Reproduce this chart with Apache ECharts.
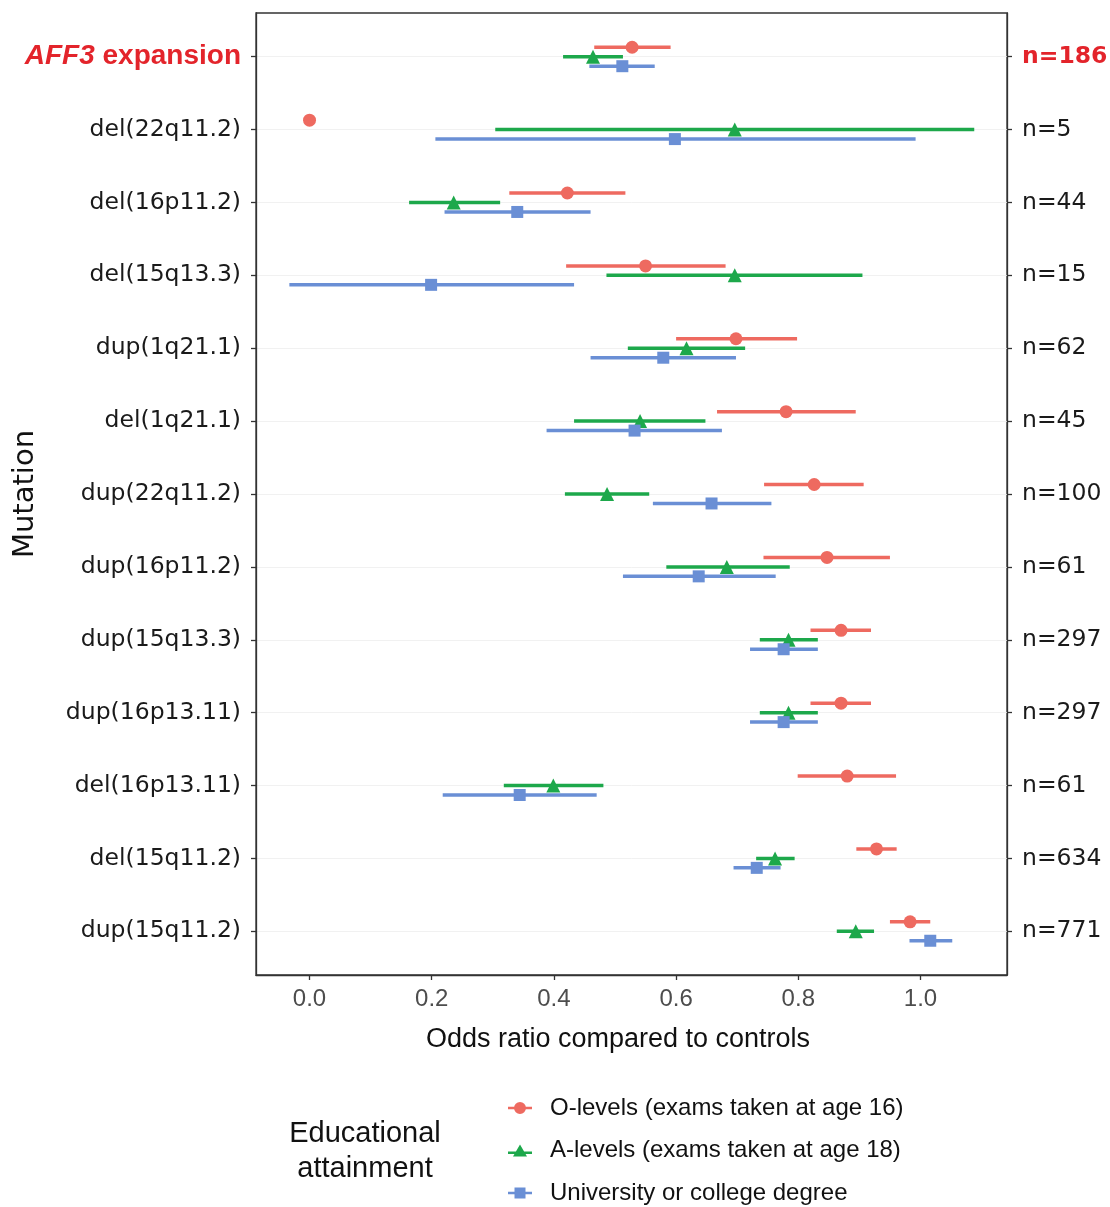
<!DOCTYPE html>
<html>
<head>
<meta charset="utf-8">
<style>html,body{margin:0;padding:0;background:#fff;}#chart{width:1110px;height:1207px;}</style>
<script src="https://cdn.jsdelivr.net/npm/echarts@6/dist/echarts.min.js"></script>
</head>
<body>
<div id="chart"></div>
<script>
const categories = ['AFF3 expansion','del(22q11.2)','del(16p11.2)','del(15q13.3)','dup(1q21.1)','del(1q21.1)','dup(22q11.2)','dup(16p11.2)','dup(15q13.3)','dup(16p13.11)','del(16p13.11)','del(15q11.2)','dup(15q11.2)'];
const nLabels = ['n=186','n=5','n=44','n=15','n=62','n=45','n=100','n=61','n=297','n=297','n=61','n=634','n=771'];
const xTicks = [0, 0.2, 0.4, 0.6, 0.8, 1.0];

const oLevelOR   = [0.528, 0.000, 0.422, 0.550, 0.698, 0.780, 0.826, 0.847, 0.870, 0.870, 0.880, 0.928, 0.983];
const oLevelLow  = [0.466, null,  0.327, 0.420, 0.600, 0.667, 0.744, 0.743, 0.820, 0.820, 0.799, 0.895, 0.950];
const oLevelHigh = [0.591, null,  0.517, 0.681, 0.798, 0.894, 0.907, 0.950, 0.919, 0.919, 0.960, 0.961, 1.016];

const aLevelOR   = [0.464, 0.696, 0.236, 0.696, 0.617, 0.541, 0.487, 0.683, 0.784, 0.784, 0.399, 0.762, 0.894];
const aLevelLow  = [0.415, 0.304, 0.163, 0.486, 0.521, 0.433, 0.418, 0.584, 0.737, 0.737, 0.318, 0.731, 0.863];
const aLevelHigh = [0.513, 1.088, 0.312, 0.905, 0.713, 0.648, 0.556, 0.786, 0.832, 0.832, 0.481, 0.794, 0.924];

const degreeOR   = [0.512, 0.598, 0.340, 0.199, 0.579, 0.532, 0.658, 0.637, 0.776, 0.776, 0.344, 0.732, 1.016];
const degreeLow  = [0.458, 0.206, 0.221, -0.033, 0.460, 0.388, 0.562, 0.513, 0.721, 0.721, 0.218, 0.694, 0.982];
const degreeHigh = [0.565, 0.992, 0.460, 0.433, 0.698, 0.675, 0.756, 0.763, 0.832, 0.832, 0.470, 0.771, 1.052];

const groups = [
  {name: 'O-levels (exams taken at age 16)', or: oLevelOR, lo: oLevelLow, hi: oLevelHigh, color: '#EE6A60', symbol: 'circle', size: 13,
   icon: 'path://M0,4.75H24V7.25H0Z M18,6A6,6 0 1,1 6,6A6,6 0 1,1 18,6Z'},
  {name: 'A-levels (exams taken at age 18)', or: aLevelOR, lo: aLevelLow, hi: aLevelHigh, color: '#1DA84B', symbol: 'triangle', size: 14,
   icon: 'path://M0,7H24V9.5H0Z M12,0L19,12H5Z'},
  {name: 'University or college degree', or: degreeOR, lo: degreeLow, hi: degreeHigh, color: '#6A8FD5', symbol: 'rect', size: 12,
   icon: 'path://M0,4.75H24V7.25H0Z M6.5,0.5H17.5V11.5H6.5Z'}
];
const dodge = [-0.13, 0, 0.13];
const rowIdx = categories.map((_, i) => i);

const series = [];
groups.forEach((g, k) => {
  const barData = [];
  g.lo.forEach((lo, i) => { if (lo !== null) barData.push([lo, g.hi[i], i + dodge[k]]); });
  series.push({
    name: g.name, type: 'custom', z: 2,
    renderItem: function (params, api) {
      const p1 = api.coord([api.value(0), api.value(2)]);
      const p2 = api.coord([api.value(1), api.value(2)]);
      return {type: 'line', shape: {x1: p1[0], y1: p1[1], x2: p2[0], y2: p2[1]},
              style: {stroke: g.color, lineWidth: 3.5}};
    },
    data: barData, encode: {x: [0, 1], y: 2}, silent: true
  });
  series.push({
    name: g.name, type: 'scatter', z: 3, symbol: g.symbol, symbolSize: g.size,
    itemStyle: {color: g.color, opacity: 1},
    data: g.or.map((v, i) => [v, i + dodge[k]]), silent: true
  });
});

const frame = '#333333';
const chart = echarts.init(document.getElementById('chart'), null, {renderer: 'canvas'});
chart.setOption({
  animation: false,
  backgroundColor: '#ffffff',
  grid: {left: 256, top: 13, width: 751, height: 962, show: true, borderColor: frame, borderWidth: 1.3,
         backgroundColor: 'transparent', containLabel: false, outerBoundsMode: 'none'},
  xAxis: {
    type: 'value', min: -0.0876, max: 1.1416,
    axisLine: {show: true, onZero: false, lineStyle: {color: frame, width: 1.3}},
    axisTick: {show: true, length: 5, lineStyle: {color: frame, width: 1.3}, customValues: xTicks},
    axisLabel: {customValues: xTicks, margin: 12, color: '#4d4d4d', fontSize: 24,
      fontFamily: '"Liberation Sans Narrow", "Liberation Sans", sans-serif',
      formatter: v => v.toFixed(1)},
    splitLine: {show: false},
    name: 'Odds ratio compared to controls', nameLocation: 'middle', nameGap: 51,
    nameTextStyle: {fontSize: 27, color: '#111', fontFamily: '"Liberation Sans", Arial, sans-serif', padding: [0, 27, 0, 0]}
  },
  yAxis: [{
    type: 'value', min: -0.6, max: 12.6, inverse: true, position: 'left',
    axisLine: {show: true, onZero: false, lineStyle: {color: frame, width: 1.3}},
    axisTick: {show: true, length: 5, lineStyle: {color: frame, width: 1.3}, customValues: rowIdx},
    splitLine: {show: true, lineStyle: {color: '#f1f1f1', width: 1}},
    axisLabel: {customValues: rowIdx, margin: 15, color: '#1a1a1a', fontSize: 23.5,
      fontFamily: '"DejaVu Sans", sans-serif',
      formatter: v => { const i = Math.round(v); return i === 0 ? '{it|AFF3}{bd| expansion}' : categories[i]; },
      rich: {
        it: {fontSize: 28, fontWeight: 'bold', fontStyle: 'italic', color: '#E3242B', fontFamily: '"Liberation Sans", Arial, sans-serif'},
        bd: {fontSize: 28, fontWeight: 'bold', color: '#E3242B', fontFamily: '"Liberation Sans", Arial, sans-serif'}
      }},
    name: 'Mutation', nameLocation: 'middle', nameGap: 216, nameRotate: 90, nameMoveOverlap: false,
    nameTextStyle: {fontSize: 29, color: '#111', fontFamily: '"DejaVu Sans", sans-serif'}
  }, {
    type: 'value', min: -0.6, max: 12.6, inverse: true, position: 'right',
    axisLine: {show: true, onZero: false, lineStyle: {color: frame, width: 1.3}},
    axisTick: {show: true, length: 5, lineStyle: {color: frame, width: 1.3}, customValues: rowIdx},
    splitLine: {show: false},
    axisLabel: {customValues: rowIdx, margin: 15, color: '#1a1a1a', fontSize: 23.5,
      fontFamily: '"DejaVu Sans", sans-serif',
      formatter: v => { const i = Math.round(v); return i === 0 ? '{bd|' + nLabels[i] + '}' : nLabels[i]; },
      rich: {bd: {fontSize: 23.5, fontWeight: 'bold', color: '#E3242B', fontFamily: '"DejaVu Sans", sans-serif'}}}
  }],
  legend: {
    orient: 'vertical', left: 508, top: 1096, height: 110, itemGap: 18.5, itemWidth: 24, itemHeight: 12,
    padding: 0, selectedMode: false,
    textStyle: {fontSize: 24, lineHeight: 24, color: '#111', fontFamily: '"Liberation Sans", Arial, sans-serif', padding: [0, 0, 0, 13]},
    data: groups.map(g => ({name: g.name, icon: g.icon, itemStyle: {color: g.color}}))
  },
  graphic: [{
    type: 'text', x: 365, y: 1151,
    style: {text: 'Educational\nattainment', align: 'center', verticalAlign: 'middle', lineHeight: 35,
      font: '29px "Liberation Sans", Arial, sans-serif', fill: '#111'}
  }],
  series: series
});
</script>
</body>
</html>
